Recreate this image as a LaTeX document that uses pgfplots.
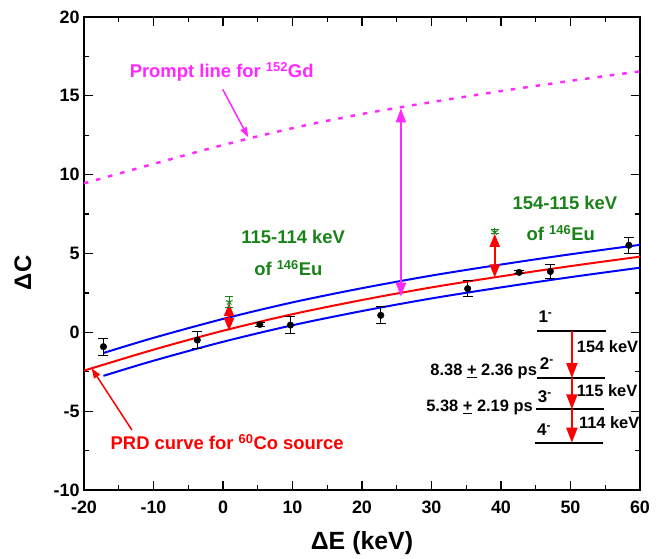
\documentclass[border=0pt]{standalone}
\usepackage{pgfplots}
\pgfplotsset{compat=1.18}
\usepackage{fontspec}
\setmainfont{Liberation Sans}
\usetikzlibrary{arrows.meta}
\definecolor{mag}{RGB}{255,40,255}
\definecolor{dgreen}{RGB}{25,130,25}
\newcommand{\fs}[1]{\bfseries\fontsize{#1}{#1}\selectfont}
\begin{document}
\begin{tikzpicture}
\begin{axis}[
  scale only axis, width=556bp, height=473bp,
  xmin=-20, xmax=60, ymin=-10, ymax=20,
  xtick={-20,-10,...,60}, ytick={-10,-5,...,20},
  minor x tick num=1, minor y tick num=1,
  tick align=inside, major tick length=9bp, minor tick length=5bp,
  tick style={line width=1.2pt, black},
  axis line style={line width=1.5pt},
  /pgf/number format/assume math mode=true,
  ticklabel style={font=\fs{18}},
  xticklabel style={yshift=-7bp},
  yticklabel style={xshift=-1bp},
  xlabel={ΔE (keV)}, ylabel={ΔC},
  xlabel style={font=\fs{25}, at={(axis description cs:0.5,-0.112)}, anchor=center},
  ylabel style={font=\fs{24}, at={(axis description cs:-0.110,0.459)}, anchor=center},
  clip=false,
]
% prompt line
\addplot[mag, line width=2.5bp, dash pattern=on 4.5bp off 8bp, smooth] coordinates {(-20,9.45) (-10,10.68) (0,11.88) (10,12.95) (20,13.85) (30,14.6) (40,15.3) (50,15.95) (60,16.55)};
% PRD curve and band
\addplot[blue, line width=2pt, smooth] coordinates {(-17.2,-1.31) (-10,-0.35) (0,0.85) (10,1.9) (20,2.8) (30,3.6) (40,4.3) (50,4.95) (60,5.55)};
\addplot[blue, line width=2pt, smooth] coordinates {(-17.2,-2.76) (-10,-1.8) (0,-0.6) (10,0.45) (20,1.35) (30,2.15) (40,2.85) (50,3.5) (60,4.1)};
\addplot[red, line width=2pt, smooth] coordinates {(-20,-2.43) (-10,-1.1) (0,0.1) (10,1.15) (20,2.05) (30,2.85) (40,3.55) (50,4.2) (60,4.8)};
% arrows
\draw[mag, line width=2pt, {Triangle[width=10bp,length=14bp]}-{Triangle[width=10bp,length=14bp]}] (axis cs:25.6,14.2) -- (axis cs:25.6,2.26);
\draw[red, line width=2pt, {Triangle[width=10bp,length=13bp]}-{Triangle[width=10bp,length=13bp]}] (axis cs:0.87,0.1) -- (axis cs:0.87,1.85);
\draw[red, line width=2pt, {Triangle[width=10bp,length=13bp]}-{Triangle[width=10bp,length=13bp]}] (axis cs:39.1,3.48) -- (axis cs:39.1,6.25);
\draw[mag, line width=1.5pt, -{Triangle[width=7bp,length=10bp]}] (axis cs:-0.04,15.41) -- (axis cs:3.64,12.37);
\draw[red, line width=1.5pt, -{Triangle[width=7bp,length=10bp]}] (axis cs:-13.1,-6.2) -- (axis cs:-18.9,-2.28);
% data
\addplot[only marks, mark=*, black, mark size=3.3bp,
  error bars/.cd, y dir=both, y explicit,
  error bar style={line width=1pt, black},
  error mark options={rotate=90, mark size=5bp, line width=1pt, black}]
  coordinates {
  (-17.2,-0.91) +- (0,0.53)
  (-3.7,-0.49) +- (0,0.52)
  (5.3,0.5) +- (0,0.12)
  (9.7,0.46) +- (0,0.55)
  (22.7,1.08) +- (0,0.53)
  (35.2,2.77) +- (0,0.5)
  (42.6,3.8) +- (0,0.1)
  (47.1,3.86) +- (0,0.45)
  (58.4,5.52) +- (0,0.5)
  };
\addplot[only marks, mark=star, dgreen, mark size=3.5bp, mark options={line width=1pt},
  error bars/.cd, y dir=both, y explicit,
  error bar style={line width=1pt, dgreen},
  error mark options={rotate=90, mark size=4bp, line width=1pt, dgreen}]
  coordinates {
  (0.9,1.94) +- (0,0.35)
  (39.1,6.38) +- (0,0.12)
  };
% texts
\node[mag, font=\fs{18.5}] at (axis cs:-0.19,16.53) {Prompt line for \textsuperscript{152}Gd};
\node[dgreen, font=\fs{18.5}] at (axis cs:10.1,6.04) {115-114 keV};
\node[dgreen, font=\fs{18.5}] at (axis cs:9.4,4.08) {of \textsuperscript{146}Eu};
\node[dgreen, font=\fs{18.5}] at (axis cs:49.2,8.2) {154-115 keV};
\node[dgreen, font=\fs{18.5}] at (axis cs:48.6,6.3) {of \textsuperscript{146}Eu};
\node[red, font=\fs{18.5}] at (axis cs:0.6,-6.94) {PRD curve for \textsuperscript{60}Co source};
% level scheme
\draw[black, line width=2pt] (axis cs:45.2,0.08) -- (axis cs:55.1,0.08);
\draw[black, line width=2pt] (axis cs:45.2,-2.9) -- (axis cs:55.0,-2.9);
\draw[black, line width=2pt] (axis cs:45.0,-4.88) -- (axis cs:54.8,-4.88);
\draw[black, line width=2pt] (axis cs:44.9,-7.0) -- (axis cs:54.7,-7.0);
\draw[red, line width=2pt, -{Triangle[width=11bp,length=15bp]}] (axis cs:50.2,0.08) -- (axis cs:50.2,-2.9);
\draw[red, line width=2pt, -{Triangle[width=11bp,length=15bp]}] (axis cs:50.2,-2.9) -- (axis cs:50.2,-4.88);
\draw[red, line width=2pt, -{Triangle[width=11bp,length=15bp]}] (axis cs:50.2,-4.88) -- (axis cs:50.2,-7.0);
\node[font=\fs{17}] at (axis cs:46.4,0.99) {1\textsuperscript{-}};
\node[font=\fs{17}] at (axis cs:46.6,-1.97) {2\textsuperscript{-}};
\node[font=\fs{17}] at (axis cs:46.3,-4.08) {3\textsuperscript{-}};
\node[font=\fs{17}] at (axis cs:46.2,-6.2) {4\textsuperscript{-}};
\node[font=\fs{16.5}, anchor=east, inner sep=0pt] at (axis cs:45.2,-2.5) {8.38 \underline{+} 2.36 ps};
\node[font=\fs{16.5}, anchor=east, inner sep=0pt] at (axis cs:44.6,-4.76) {5.38 \underline{+} 2.19 ps};
\node[font=\fs{16.5}, anchor=west, inner sep=0pt] at (axis cs:50.9,-0.91) {154 keV};
\node[font=\fs{16.5}, anchor=west, inner sep=0pt] at (axis cs:50.9,-3.7) {115 keV};
\node[font=\fs{16.5}, anchor=west, inner sep=0pt] at (axis cs:51.2,-5.73) {114 keV};
\end{axis}
\path ([xshift=-84bp,yshift=-69bp]current axis.south west) rectangle ([xshift=23bp,yshift=17bp]current axis.north east);
\end{tikzpicture}
\end{document}
